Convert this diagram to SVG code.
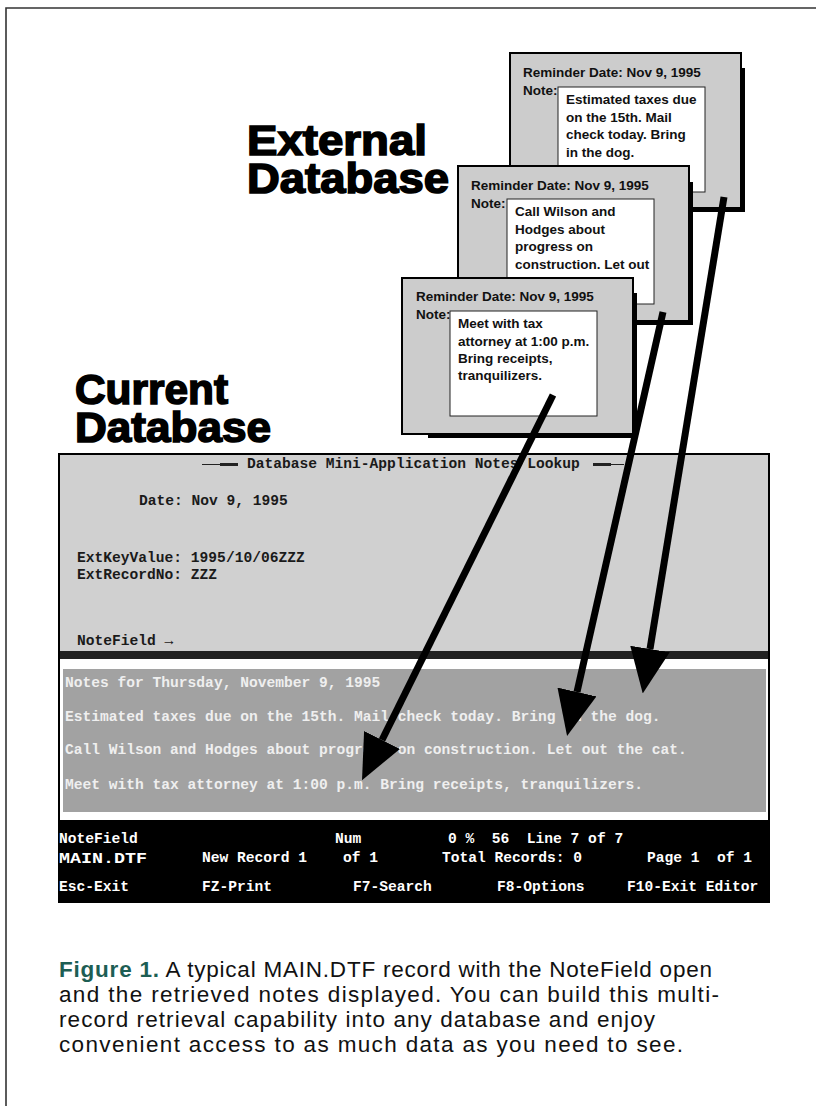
<svg xmlns="http://www.w3.org/2000/svg" width="816" height="1106" viewBox="0 0 816 1106">
<defs>
<style>
.card{fill:#cccccc;stroke:#000;stroke-width:2}
.shadow{fill:#000}
.notebox{fill:#fff;stroke:#222;stroke-width:1}
.ct{font-family:"Liberation Sans",Arial,sans-serif;font-weight:bold;font-size:13.5px;fill:#111}
.head{font-family:"Liberation Sans",Arial,sans-serif;font-weight:bold;font-size:42px;fill:#000;stroke:#000;stroke-width:1.6}
.mono{font-family:"Liberation Mono","DejaVu Sans Mono",monospace;font-size:14.6px;font-weight:bold}
.dark{fill:#1a1a1a}
.light{fill:#efefef}
.white{fill:#fff}
.cap{font-family:"Liberation Sans",Arial,sans-serif;font-size:22.5px;fill:#111}
.conn{stroke:#000;stroke-width:7;fill:none;marker-end:url(#ah)}
</style>
<marker id="ah" viewBox="0 0 45 40" refX="0" refY="20" markerWidth="45" markerHeight="40" markerUnits="userSpaceOnUse" orient="auto">
<path d="M0,0 L45,20 L0,40 z" fill="#000"/>
</marker>
</defs>
<rect width="816" height="1106" fill="#fff"/>
<g id="page-border" stroke="#333" stroke-width="1.6" fill="none">
<path d="M6,1106 V8 H816"/>
</g>

<g id="heading-external">
<text class="head"><tspan x="247" y="155" textLength="180" lengthAdjust="spacingAndGlyphs">External</tspan><tspan x="247" y="193" textLength="202" lengthAdjust="spacingAndGlyphs">Database</tspan></text>
</g>
<g id="heading-current">
<text class="head"><tspan x="75" y="404" textLength="153" lengthAdjust="spacingAndGlyphs">Current</tspan><tspan x="75" y="442" textLength="196" lengthAdjust="spacingAndGlyphs">Database</tspan></text>
</g>

<g id="card1">
<rect class="shadow" x="741" y="68" width="4" height="144"/>
<rect class="shadow" x="536" y="208" width="209" height="4"/>
<rect class="card" x="510" y="53" width="231" height="155"/>
<text class="ct" x="523" y="77">Reminder Date: Nov 9, 1995</text>
<text class="ct" x="523" y="95">Note:</text>
<rect class="notebox" x="558" y="87" width="147" height="105"/>
<text class="ct" x="566" y="104">Estimated taxes due</text>
<text class="ct" x="566" y="122">on the 15th. Mail</text>
<text class="ct" x="566" y="139">check today. Bring</text>
<text class="ct" x="566" y="157">in the dog.</text>
</g>

<g id="card2">
<rect class="shadow" x="689" y="182" width="4" height="143"/>
<rect class="shadow" x="484" y="321" width="209" height="4"/>
<rect class="card" x="458" y="166" width="231" height="155"/>
<text class="ct" x="471" y="190">Reminder Date: Nov 9, 1995</text>
<text class="ct" x="471" y="208">Note:</text>
<rect class="notebox" x="507" y="199" width="147" height="105"/>
<text class="ct" x="515" y="216">Call Wilson and</text>
<text class="ct" x="515" y="234">Hodges about</text>
<text class="ct" x="515" y="251">progress on</text>
<text class="ct" x="515" y="269">construction. Let out</text>
</g>

<g id="card3">
<rect class="shadow" x="633" y="293" width="4" height="145"/>
<rect class="shadow" x="428" y="434" width="209" height="4"/>
<rect class="card" x="402" y="278" width="231" height="156"/>
<text class="ct" x="416" y="301">Reminder Date: Nov 9, 1995</text>
<text class="ct" x="416" y="319">Note:</text>
<rect class="notebox" x="450" y="311" width="147" height="105"/>
<text class="ct" x="458" y="328">Meet with tax</text>
<text class="ct" x="458" y="346">attorney at 1:00 p.m.</text>
<text class="ct" x="458" y="363">Bring receipts,</text>
<text class="ct" x="458" y="380">tranquilizers.</text>
</g>

<g id="screen">
<rect x="59" y="454" width="710" height="448" fill="#fff" stroke="#000" stroke-width="2"/>
<rect x="60" y="455" width="708" height="196" fill="#d0d0d0"/>
<rect x="60" y="651" width="708" height="8" fill="#222"/>
<rect x="63" y="669" width="703" height="143" fill="#a2a2a2"/>
<rect x="59" y="820" width="711" height="82" fill="#000"/>
<g fill="#222">
<rect x="202" y="464" width="36" height="1"/>
<rect x="220" y="463" width="18" height="3"/>
<rect x="593" y="463" width="18" height="3"/>
<rect x="593" y="464" width="31" height="1"/>
</g>
<text class="mono dark" x="247" y="468">Database Mini-Application Notes Lookup</text>
<text class="mono dark" x="139" y="505">Date: Nov 9, 1995</text>
<text class="mono dark" x="77" y="562">ExtKeyValue: 1995/10/06ZZZ</text>
<text class="mono dark" x="77" y="579">ExtRecordNo: ZZZ</text>
<text class="mono dark" x="77" y="645">NoteField →</text>
<text class="mono light" x="65" y="687">Notes for Thursday, November 9, 1995</text>
<text class="mono light" x="65" y="721">Estimated taxes due on the 15th. Mail check today. Bring in the dog.</text>
<text class="mono light" x="65" y="754">Call Wilson and Hodges about progress on construction. Let out the cat.</text>
<text class="mono light" x="65" y="789">Meet with tax attorney at 1:00 p.m. Bring receipts, tranquilizers.</text>
<text class="mono white" x="59" y="843">NoteField</text>
<text class="mono white" x="335" y="843">Num</text>
<text class="mono white" x="448" y="843" xml:space="preserve">0 %  56  Line 7 of 7</text>
<text class="mono white" x="59" y="863" textLength="88" lengthAdjust="spacingAndGlyphs">MAIN.DTF</text>
<text class="mono white" x="202" y="862">New Record 1</text>
<text class="mono white" x="343" y="862">of 1</text>
<text class="mono white" x="442" y="862">Total Records: 0</text>
<text class="mono white" x="647" y="862" xml:space="preserve">Page 1  of 1</text>
<text class="mono white" x="59" y="891">Esc-Exit</text>
<text class="mono white" x="202" y="891">FZ-Print</text>
<text class="mono white" x="353" y="891">F7-Search</text>
<text class="mono white" x="497" y="891">F8-Options</text>
<text class="mono white" x="627" y="891">F10-Exit Editor</text>
</g>

<g id="connectors">
<path class="conn" d="M553,395 L382,740"/>
<path class="conn" d="M663,312 L577,692"/>
<path class="conn" d="M724,197 L650,649"/>
</g>

<g id="caption">
<text class="cap" x="59" y="977" textLength="653"><tspan fill="#1d5e54" font-weight="bold">Figure 1.</tspan> A typical MAIN.DTF record with the NoteField open</text>
<text class="cap" x="59" y="1002" textLength="660">and the retrieved notes displayed. You can build this multi-</text>
<text class="cap" x="59" y="1027" textLength="596">record retrieval capability into any database and enjoy</text>
<text class="cap" x="59" y="1052" textLength="624">convenient access to as much data as you need to see.</text>
</g>
</svg>
